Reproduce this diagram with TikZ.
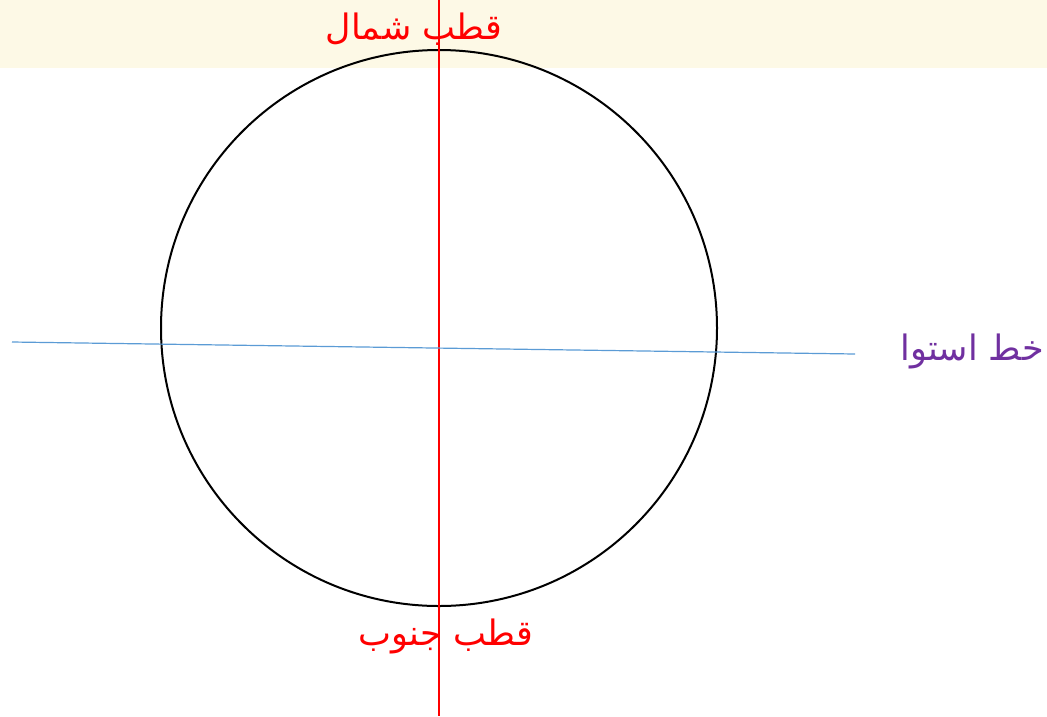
\documentclass[tikz,border=0pt]{standalone}
\usepackage{fontspec}
\newfontfamily\arabicfont[Script=Arabic]{DejaVu Sans}
\TeXXeTstate=1
\usetikzlibrary{shapes.geometric}
\definecolor{bandyellow}{RGB}{253,249,230}
\definecolor{axisred}{RGB}{255,0,0}
\definecolor{eqblue}{RGB}{91,155,213}
\definecolor{eqpurple}{RGB}{112,48,160}
\tikzstyle{arabtext} = [font=\arabicfont\fontsize{35}{42}\selectfont, inner sep=0pt]

\begin{document}
\begin{tikzpicture}[x=1pt, y=-1pt]
    \useasboundingbox (0,0) rectangle (1047,716);
    % band at top
    \fill[bandyellow] (0,0) rectangle (1047,68);

    % earth
    \node (earth) [circle, draw=black, line width=2pt, minimum size=556pt, inner sep=0pt] at (439,328) {};

    % axis and equator
    \coordinate (axtop) at (439,0);
    \coordinate (axbot) at (439,716);
    \draw[draw=axisred, line width=1.3pt] (axtop) -- (axbot);
    \coordinate (eqwest) at (12,342);
    \coordinate (eqeast) at (855,354);
    \draw[draw=eqblue, line width=1.2pt] (eqwest) -- (eqeast);

    % labels
    \node (north) [arabtext, text=red] at (414,29) {\beginR قطب شمال\endR};
    \node (south) [arabtext, text=red] at (446,636) {\beginR قطب جنوب\endR};
    \node (equator) [arabtext, text=eqpurple] at (972,351) {\beginR خط استوا\endR};
\end{tikzpicture}
\end{document}
